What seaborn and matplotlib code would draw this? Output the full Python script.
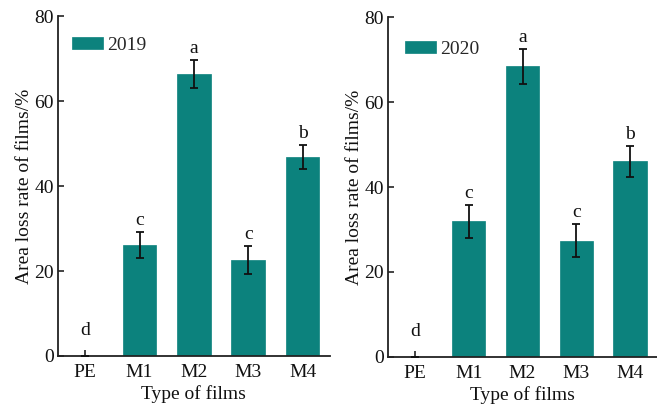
import matplotlib
matplotlib.use("Agg")
import matplotlib.pyplot as plt
import seaborn as sns
import pandas as pd

# Film types and measured area loss rates (%), mean and error per year
films = ["PE", "M1", "M2", "M3", "M4"]
loss_2019 = [0.0, 26.2, 66.5, 22.6, 46.8]
err_2019 = [0.0, 3.1, 3.3, 3.2, 2.8]
letters_2019 = ["d", "c", "a", "c", "b"]
loss_2020 = [0.0, 32.0, 68.5, 27.4, 46.1]
err_2020 = [0.0, 3.9, 4.1, 3.9, 3.6]
letters_2020 = ["d", "c", "a", "c", "b"]

sns.set_theme(style="ticks")
plt.rcParams["font.family"] = ["Liberation Serif", "DejaVu Serif"]

TEAL = "#0c827d"
FS = 14

fig = plt.figure(figsize=(6.57, 4.05), dpi=100)
ax1 = fig.add_axes([0.0883, 0.121, 0.4137, 0.839])
ax2 = fig.add_axes([0.5906, 0.119, 0.4094, 0.838])


def draw_panel(ax, means, errs, letters, year, legend_anchor):
    df = pd.DataFrame({"film": films, "loss": means})
    sns.barplot(data=df, x="film", y="loss", order=films, color=TEAL,
                saturation=1, width=0.62, errorbar=None, ax=ax,
                label=year, edgecolor=TEAL, linewidth=0.5)
    xs = range(len(films))
    ax.errorbar(list(xs), means, yerr=errs, fmt="none", ecolor="#111111",
                elinewidth=1.3, capsize=2.6, capthick=1.3, zorder=3)
    for x, m, e, lab in zip(xs, means, errs, letters):
        y = max(m + e + 0.7, 4.0)
        ax.text(x, y, lab, ha="center", va="bottom", fontsize=FS,
                color="#111111")
    ax.set_xlim(-0.5, 4.5)
    ax.set_ylim(0, 80)
    ax.set_yticks([0, 20, 40, 60, 80])
    ax.set_xlabel("Type of films", fontsize=FS, labelpad=3, color="#111111")
    ax.set_ylabel("Area loss rate of films/%", fontsize=FS, labelpad=1,
                  color="#111111")
    ax.tick_params(axis="both", direction="in", length=4, width=1.1,
                   labelsize=FS, colors="#111111")
    ax.tick_params(axis="x", pad=6)
    ax.tick_params(axis="y", pad=3)
    for side in ("top", "right"):
        ax.spines[side].set_visible(False)
    for side in ("left", "bottom"):
        ax.spines[side].set_linewidth(1.3)
        ax.spines[side].set_color("#222222")
    ax.legend(loc="upper left", bbox_to_anchor=legend_anchor, frameon=False,
              fontsize=FS, handlelength=1.6, handleheight=0.6,
              handletextpad=0.2, borderaxespad=0)


draw_panel(ax1, loss_2019, err_2019, letters_2019, "2019", (0.022, 0.962))
draw_panel(ax2, loss_2020, err_2020, letters_2020, "2020", (0.033, 0.953))

fig.savefig("out.png", dpi=100)
